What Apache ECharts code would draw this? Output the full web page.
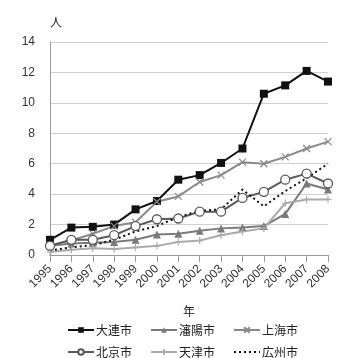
<!DOCTYPE html>
<html><head><meta charset="utf-8">
<script src="https://cdn.jsdelivr.net/npm/echarts@6/dist/echarts.min.js"></script>
<style>html,body{margin:0;padding:0;background:#fff}#c{width:337px;height:358px}</style>
</head><body><div id="c"></div>
<script>
const years = ['1995','1996','1997','1998','1999','2000','2001','2002','2003','2004','2005','2006','2007','2008'];
const dalian    = [1.0,1.8,1.85,2.0,3.0,3.55,4.95,5.25,6.05,7.0,10.6,11.15,12.1,11.4];
const shenyang  = [0.6,0.75,0.8,0.85,1.0,1.35,1.4,1.6,1.75,1.8,1.9,2.7,4.7,4.3];
const shanghai  = [0.65,0.95,1.4,1.9,2.15,3.5,3.85,4.8,5.25,6.1,6.0,6.45,7.0,7.45];
const beijing   = [0.6,1.0,1.0,1.3,1.9,2.35,2.4,2.85,2.85,3.75,4.15,4.95,5.35,4.7];
const tianjin   = [0.2,0.35,0.45,0.4,0.5,0.6,0.85,0.95,1.3,1.55,1.75,3.4,3.65,3.65];
const guangzhou = [0.3,0.5,0.65,1.0,1.55,1.9,2.5,2.9,3.0,4.3,3.2,4.2,5.05,6.0];
const yTicks = [0,2,4,6,8,10,12,14];

const FONT = '"Noto Sans CJK JP", "Noto Sans", sans-serif';
const xPath = 'path://M0,0 L10,10 M10,0 L0,10';
const plusPath = 'path://M5,0 L5,10 M0,5 L10,5';

const chart = echarts.init(document.getElementById('c'));
const legText = {fontSize:12,color:'#222',fontFamily:FONT,padding:[0,0,0,-3]};
chart.setOption({
  animation:false,
  backgroundColor:'#fff',
  textStyle:{fontFamily:FONT},
  grid:{left:50,right:9,top:42,bottom:103,containLabel:false},
  xAxis:{type:'category',data:years,boundaryGap:false,
    name:'年',nameLocation:'middle',nameGap:50,nameTextStyle:{fontSize:12,color:'#222',fontFamily:FONT},
    axisLine:{lineStyle:{color:'#9a9a9a',width:1}},
    axisTick:{show:true,alignWithLabel:true,length:7,lineStyle:{color:'#9a9a9a'}},
    axisLabel:{rotate:45,fontSize:12,color:'#333',margin:12,interval:0,fontFamily:'"Liberation Sans", sans-serif'},
    splitLine:{show:false}},
  yAxis:{type:'value',min:0,max:14,interval:2,
    name:'人',nameLocation:'end',nameGap:14,nameTextStyle:{fontSize:12,color:'#222',align:'center',padding:[0,0,0,12],fontFamily:FONT},
    axisLine:{show:true,lineStyle:{color:'#9a9a9a'}},
    axisTick:{show:false},
    axisLabel:{fontSize:12,color:'#333',margin:15,fontFamily:'"Liberation Sans", sans-serif',
      formatter:function(v){return yTicks.indexOf(v)>=0?String(v):'';}},
    splitLine:{lineStyle:{color:'#cfcfcf',width:1}}},
  legend:[
    {data:['大連市','瀋陽市','上海市'],left:62,top:319,itemWidth:26,itemHeight:7,itemGap:18,textStyle:legText},
    {data:['北京市','天津市',{name:'広州市',itemStyle:{opacity:0}}],left:62,top:341,itemWidth:26,itemHeight:7,itemGap:18,textStyle:legText}
  ],
  series:[
    {name:'大連市',type:'line',data:dalian,symbol:'rect',symbolSize:8,showAllSymbol:true,
      lineStyle:{color:'#111',width:2},itemStyle:{color:'#111'}},
    {name:'瀋陽市',type:'line',data:shenyang,symbol:'triangle',symbolSize:8,showAllSymbol:true,
      lineStyle:{color:'#7a7a7a',width:2},itemStyle:{color:'#7a7a7a'}},
    {name:'上海市',type:'line',data:shanghai,symbol:xPath,symbolSize:7,showAllSymbol:true,
      lineStyle:{color:'#8a8a8a',width:2},itemStyle:{color:'#8a8a8a',borderColor:'#8a8a8a',borderWidth:1.2}},
    {name:'北京市',type:'line',data:beijing,symbol:'circle',symbolSize:9,showAllSymbol:true,
      lineStyle:{color:'#5a5a5a',width:2},itemStyle:{color:'#fff',borderColor:'#5a5a5a',borderWidth:1.3}},
    {name:'天津市',type:'line',data:tianjin,symbol:plusPath,symbolSize:7,showAllSymbol:true,
      lineStyle:{color:'#ababab',width:2},itemStyle:{color:'#ababab',borderColor:'#ababab',borderWidth:1.2}},
    {name:'広州市',type:'line',data:guangzhou,symbol:'none',
      lineStyle:{color:'#111',width:2,type:[2,3]},itemStyle:{color:'#111'}}
  ]
});
</script></body></html>
